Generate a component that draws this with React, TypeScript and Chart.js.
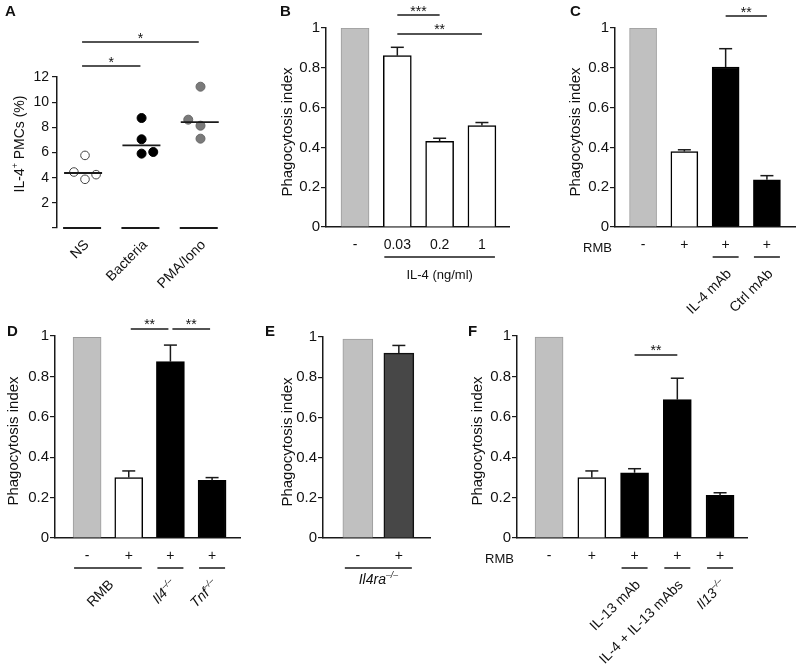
import React, { useEffect, useRef } from 'react';
import { Chart, registerables } from 'chart.js';

Chart.register(...registerables);

const FONT = '"Liberation Sans", Arial, Helvetica, sans-serif';
Chart.defaults.font.family = FONT;
Chart.defaults.color = '#111';

// ---------------- DATA ----------------
// Panel A (dot plot)
const aCategories = ['NS', 'Bacteria', 'PMA/Iono'];
const aNS = [5.77, 4.45, 3.87, 4.24];
const aBacteria = [8.74, 7.05, 5.91, 6.04];
const aPMA = [11.23, 8.61, 8.13, 7.1];
const aMedians = [4.37, 6.57, 8.42];
const aJitterNS = [0.05, -0.14, 0.05, 0.24];
const aJitterBacteria = [0.02, 0.02, 0.02, 0.22];
const aJitterPMA = [0.03, -0.18, 0.03, 0.03];
const aTicks = [0, 2, 4, 6, 8, 10, 12];

const phagoTicks = [0, 0.2, 0.4, 0.6, 0.8, 1];

// Panel B
const bTickLabels = ['-', '0.03', '0.2', '1'];
const bValues = [1.0, 0.861, 0.43, 0.51];
const bErrors = [0, 0.042, 0.016, 0.015];

// Panel C
const cTickLabels = ['-', '+', '+', '+'];
const cValues = [1.0, 0.379, 0.804, 0.237];
const cErrors = [0, 0.009, 0.092, 0.021];

// Panel D
const dTickLabels = ['-', '+', '+', '+'];
const dValues = [0.993, 0.299, 0.873, 0.286];
const dErrors = [0, 0.033, 0.082, 0.013];

// Panel E
const eTickLabels = ['-', '+'];
const eValues = [0.99, 0.92];
const eErrors = [0, 0.038];

// Panel F
const fTickLabels = ['-', '+', '+', '+', '+'];
const fValues = [0.995, 0.299, 0.323, 0.685, 0.211];
const fErrors = [0, 0.033, 0.02, 0.106, 0.013];

// ---------------- TYPES / ANNOTATIONS ----------------
type Part = { text: string; italic?: boolean; sup?: boolean };
type Sig = { from: number; to: number; y: number; label: string };
type Group = { from: number; to: number; parts: Part[]; rotated: boolean; size?: number };

const KO: Part = { text: '\u2013/\u2013', italic: true, sup: true };

const aSig: Sig[] = [
  { from: 0, to: 1, y: 12.87, label: '*' },
  { from: 0, to: 2, y: 14.78, label: '*' },
];
const aGroups: Group[] = aCategories.map((c, i) => ({ from: i, to: i, parts: [{ text: c }], rotated: true }));

const bSig: Sig[] = [
  { from: 1, to: 2, y: 1.065, label: '***' },
  { from: 1, to: 3, y: 0.97, label: '**' },
];
const bGroups: Group[] = [{ from: 1, to: 3, parts: [{ text: 'IL-4 (ng/ml)' }], rotated: false, size: 13 }];

const cSig: Sig[] = [{ from: 2, to: 3, y: 1.06, label: '**' }];
const cGroups: Group[] = [
  { from: 2, to: 2, parts: [{ text: 'IL-4 mAb' }], rotated: true },
  { from: 3, to: 3, parts: [{ text: 'Ctrl mAb' }], rotated: true },
];

const dSig: Sig[] = [
  { from: 1, to: 2, y: 1.035, label: '**' },
  { from: 2, to: 3, y: 1.035, label: '**' },
];
const dGroups: Group[] = [
  { from: 0, to: 1, parts: [{ text: 'RMB' }], rotated: true },
  { from: 2, to: 2, parts: [{ text: 'Il4', italic: true }, KO], rotated: true },
  { from: 3, to: 3, parts: [{ text: 'Tnf', italic: true }, KO], rotated: true },
];

const eSig: Sig[] = [];
const eGroups: Group[] = [{ from: 0, to: 1, parts: [{ text: 'Il4ra', italic: true }, KO], rotated: false, size: 14 }];

const fSig: Sig[] = [{ from: 2, to: 3, y: 0.906, label: '**' }];
const fGroups: Group[] = [
  { from: 2, to: 2, parts: [{ text: 'IL-13 mAb' }], rotated: true },
  { from: 3, to: 3, parts: [{ text: 'IL-4 + IL-13 mAbs' }], rotated: true },
  { from: 4, to: 4, parts: [{ text: 'Il13', italic: true }, KO], rotated: true },
];

// ---------------- STYLES ----------------
const INK = '#1a1a1a';
const GRAY = '#c0c0c0';
const GRAY_B = '#9c9c9c';
const WHITE = '#ffffff';
const BLACK = '#000000';
const DARK = '#474747';

function styleFor(c: string) {
  if (c === GRAY) return { border: GRAY_B, width: 1 };
  if (c === DARK) return { border: '#111', width: 1.5 };
  return { border: '#000', width: 1.5 };
}

// ---------------- DRAW HELPERS ----------------
function fontOf(p: Part, size: number) {
  const s = p.sup ? size * 0.62 : size;
  return `${p.italic ? 'italic ' : ''}${s}px ${FONT}`;
}
function drawRich(ctx: CanvasRenderingContext2D, parts: Part[], x: number, y: number, size: number, align: string) {
  const widths = parts.map((p) => {
    ctx.font = fontOf(p, size);
    return ctx.measureText(p.text).width;
  });
  const total = widths.reduce((a, b) => a + b, 0);
  let cx = align === 'right' ? x - total : align === 'center' ? x - total / 2 : x;
  ctx.textAlign = 'left';
  ctx.textBaseline = 'alphabetic';
  parts.forEach((p, i) => {
    ctx.font = fontOf(p, size);
    ctx.fillText(p.text, cx, p.sup ? y - size * 0.42 : y);
    cx += widths[i];
  });
}
function seg(ctx: CanvasRenderingContext2D, x1: number, y1: number, x2: number, y2: number) {
  ctx.beginPath();
  ctx.moveTo(x1, y1);
  ctx.lineTo(x2, y2);
  ctx.stroke();
}

type Box = { left: number; top: number; width: number; height: number };
type Area = { left: number; top: number; right: number; bottom: number };

interface DecorSpec {
  key: string;
  canvas: Box;
  title: { parts: Part[]; x: number; y: number; size: number };
  values?: number[];
  errors?: number[];
  tickLabels?: string[];
  rowLabel?: string;
  groups: Group[];
  groupHalf: number;
  groupOffset: number;
  groupLabelDy: number;
  groupLineWidth: number;
  rotDx: number;
  rotDy: number;
  sig: Sig[];
  sigGap: number;
  medians?: number[];
}

function decorPlugin(d: DecorSpec) {
  return {
    id: 'decor_' + d.key,
    afterDraw(chart: any) {
      const ctx: CanvasRenderingContext2D = chart.ctx;
      const xs = chart.scales.x;
      const ys = chart.scales.y;
      const ca = chart.chartArea;
      const px = (v: number) => xs.getPixelForValue(v);
      ctx.save();
      ctx.strokeStyle = INK;
      ctx.fillStyle = '#111';
      ctx.lineWidth = 1.5;

      // error bars (upper only)
      if (d.values && d.errors) {
        const meta = chart.getDatasetMeta(0);
        d.values.forEach((v, i) => {
          const e = d.errors![i];
          if (!e) return;
          const x = meta.data[i].x;
          const y0 = ys.getPixelForValue(v);
          const y1 = ys.getPixelForValue(v + e);
          seg(ctx, x, y0, x, y1);
          seg(ctx, x - 6.5, y1, x + 6.5, y1);
        });
      }

      // medians
      if (d.medians) {
        ctx.lineWidth = 1.8;
        d.medians.forEach((m, i) => {
          const y = ys.getPixelForValue(m);
          seg(ctx, px(i) - 18, y, px(i) + 20, y);
        });
      }

      // bottom tick labels (- / +)
      if (d.tickLabels) {
        ctx.font = `14px ${FONT}`;
        ctx.textAlign = 'center';
        ctx.textBaseline = 'middle';
        d.tickLabels.forEach((t, i) => ctx.fillText(t, px(i), ca.bottom + 18));
      }
      if (d.rowLabel) {
        ctx.font = `13px ${FONT}`;
        ctx.textAlign = 'right';
        ctx.textBaseline = 'middle';
        ctx.fillText(d.rowLabel, ca.left - 3, ca.bottom + 21);
      }

      // group lines and labels
      d.groups.forEach((g) => {
        const yLine = ca.bottom + d.groupOffset;
        const x1 = px(g.from) - d.groupHalf;
        const x2 = px(g.to) + d.groupHalf;
        ctx.lineWidth = d.groupLineWidth;
        seg(ctx, x1, yLine, x2, yLine);
        const size = g.size || 14;
        const cx = (px(g.from) + px(g.to)) / 2;
        if (g.rotated) {
          ctx.save();
          ctx.translate(cx + d.rotDx, yLine + d.rotDy);
          ctx.rotate(-Math.PI / 4);
          drawRich(ctx, g.parts, 0, size * 0.35, size, 'right');
          ctx.restore();
        } else {
          drawRich(ctx, g.parts, cx, yLine + d.groupLabelDy + size * 0.35, size, 'center');
        }
      });

      // significance brackets
      ctx.lineWidth = 1.5;
      d.sig.forEach((s) => {
        const y = ys.getPixelForValue(s.y);
        const x1 = px(s.from) + d.sigGap;
        const x2 = px(s.to) - d.sigGap;
        seg(ctx, x1, y, x2, y);
        ctx.font = `14px ${FONT}`;
        ctx.textAlign = 'center';
        ctx.textBaseline = 'alphabetic';
        ctx.fillText(s.label, (x1 + x2) / 2, y + 0.5);
      });

      // y title
      ctx.save();
      ctx.translate(d.title.x - d.canvas.left, d.title.y - d.canvas.top);
      ctx.rotate(-Math.PI / 2);
      drawRich(ctx, d.title.parts, 0, d.title.size * 0.3, d.title.size, 'center');
      ctx.restore();

      ctx.restore();
    },
  };
}

function commonLayout(canvas: Box, area: Area) {
  return {
    padding: {
      left: 0,
      top: area.top - canvas.top,
      right: canvas.left + canvas.width - area.right,
      bottom: 0,
    },
  };
}

function yScale(canvas: Box, area: Area, max: number, ticks: number[], size: number, pad: number, fmt: (v: number) => string) {
  return {
    type: 'linear',
    min: 0,
    max,
    afterBuildTicks: (s: any) => {
      s.ticks = ticks.map((v) => ({ value: v }));
    },
    ticks: { font: { size }, color: '#111', padding: pad, callback: (v: any) => fmt(Number(v)) },
    grid: { display: true, drawOnChartArea: false, drawTicks: true, tickLength: 5, color: INK, lineWidth: 1.2 },
    border: { display: true, color: INK, width: 1.5 },
    afterFit: (s: any) => {
      s.width = area.left - canvas.left;
    },
  };
}

function xScale(canvas: Box, area: Area, min: number, max: number, showLine: boolean) {
  return {
    type: 'linear',
    min,
    max,
    offset: false,
    ticks: { display: false },
    grid: { display: false },
    border: { display: showLine, color: INK, width: 1.5 },
    afterFit: (s: any) => {
      s.height = canvas.top + canvas.height - area.bottom;
    },
  };
}

interface BarSpec {
  key: string;
  canvas: Box;
  area: Area;
  xMin: number;
  xMax: number;
  values: number[];
  errors: number[];
  colors: string[];
  barThickness: number;
  tickLabels: string[];
  rowLabel?: string;
  groups: Group[];
  groupLabelDy: number;
  sig: Sig[];
  sigGap: number;
  titleX: number;
  titleY: number;
}

function barConfig(b: BarSpec) {
  const st = b.colors.map(styleFor);
  return {
    type: 'bar',
    data: {
      datasets: [
        {
          data: b.values.map((v, i) => ({ x: i, y: v })),
          backgroundColor: b.colors,
          borderColor: st.map((s) => s.border),
          borderWidth: st.map((s) => s.width),
          barThickness: b.barThickness,
          borderSkipped: 'start',
        },
      ],
    },
    options: {
      animation: false,
      responsive: false,
      maintainAspectRatio: false,
      layout: commonLayout(b.canvas, b.area),
      plugins: { legend: { display: false }, tooltip: { enabled: false } },
      scales: {
        x: xScale(b.canvas, b.area, b.xMin, b.xMax, true),
        y: yScale(b.canvas, b.area, 1, phagoTicks, 15, 1, (v) => String(v)),
      },
    },
    plugins: [
      decorPlugin({
        key: b.key,
        canvas: b.canvas,
        title: { parts: [{ text: 'Phagocytosis index' }], x: b.titleX, y: b.titleY, size: 15 },
        values: b.values,
        errors: b.errors,
        tickLabels: b.tickLabels,
        rowLabel: b.rowLabel,
        groups: b.groups,
        groupHalf: 13,
        groupOffset: 30,
        groupLabelDy: b.groupLabelDy,
        groupLineWidth: 1.5,
        rotDx: 3,
        rotDy: 14,
        sig: b.sig,
        sigGap: b.sigGap,
      }),
    ],
  };
}

const canvasA: Box = { left: 0, top: 0, width: 258, height: 310 };
const areaA: Area = { left: 57, top: 77, right: 225, bottom: 228 };

function configA() {
  const idx = (name: string) => aCategories.indexOf(name);
  const pts = (vals: number[], jit: number[], c: number) => vals.map((v, i) => ({ x: c + jit[i], y: v }));
  return {
    type: 'scatter',
    data: {
      datasets: [
        { data: pts(aNS, aJitterNS, idx('NS')), pointRadius: 4.3, backgroundColor: WHITE, borderColor: '#444', borderWidth: 1 },
        { data: pts(aBacteria, aJitterBacteria, idx('Bacteria')), pointRadius: 4.5, backgroundColor: BLACK, borderColor: BLACK, borderWidth: 1 },
        { data: pts(aPMA, aJitterPMA, idx('PMA/Iono')), pointRadius: 4.5, backgroundColor: '#7a7a7a', borderColor: '#666', borderWidth: 1 },
      ],
    },
    options: {
      animation: false,
      responsive: false,
      maintainAspectRatio: false,
      layout: commonLayout(canvasA, areaA),
      plugins: { legend: { display: false }, tooltip: { enabled: false } },
      scales: {
        x: xScale(canvasA, areaA, -0.43, 2.45, false),
        y: yScale(canvasA, areaA, 12, aTicks, 14, 3, (v) => (v === 0 ? '' : String(v))),
      },
    },
    plugins: [
      decorPlugin({
        key: 'A',
        canvas: canvasA,
        title: { parts: [{ text: 'IL-4' }, { text: '+', sup: true }, { text: ' PMCs (%)' }], x: 20, y: 144, size: 14 },
        groups: aGroups,
        groupHalf: 19,
        groupOffset: 0,
        groupLabelDy: 0,
        groupLineWidth: 1.8,
        rotDx: 4,
        rotDy: 14,
        sig: aSig,
        sigGap: 0,
        medians: aMedians,
      }),
    ],
  };
}

const barSpecs: BarSpec[] = [
  {
    key: 'B',
    canvas: { left: 262, top: 0, width: 255, height: 310 },
    area: { left: 326, top: 28, right: 509, bottom: 227 },
    xMin: -0.686,
    xMax: 3.64,
    values: bValues,
    errors: bErrors,
    colors: [GRAY, WHITE, WHITE, WHITE],
    barThickness: 28,
    tickLabels: bTickLabels,
    groups: bGroups,
    groupLabelDy: 17,
    sig: bSig,
    sigGap: 0,
    titleX: 287,
    titleY: 132,
  },
  {
    key: 'C',
    canvas: { left: 522, top: 0, width: 276, height: 330 },
    area: { left: 615, top: 28, right: 795, bottom: 227 },
    xMin: -0.68,
    xMax: 3.68,
    values: cValues,
    errors: cErrors,
    colors: [GRAY, WHITE, BLACK, BLACK],
    barThickness: 27,
    tickLabels: cTickLabels,
    rowLabel: 'RMB',
    groups: cGroups,
    groupLabelDy: 17,
    sig: cSig,
    sigGap: 0,
    titleX: 575,
    titleY: 132,
  },
  {
    key: 'D',
    canvas: { left: 0, top: 310, width: 258, height: 360 },
    area: { left: 55, top: 336, right: 240, bottom: 538 },
    xMin: -0.77,
    xMax: 3.67,
    values: dValues,
    errors: dErrors,
    colors: [GRAY, WHITE, BLACK, BLACK],
    barThickness: 28,
    tickLabels: dTickLabels,
    groups: dGroups,
    groupLabelDy: 17,
    sig: dSig,
    sigGap: 2,
    titleX: 13,
    titleY: 441,
  },
  {
    key: 'E',
    canvas: { left: 262, top: 310, width: 200, height: 360 },
    area: { left: 323, top: 337, right: 430, bottom: 538 },
    xMin: -0.85,
    xMax: 1.76,
    values: eValues,
    errors: eErrors,
    colors: [GRAY, DARK],
    barThickness: 30,
    tickLabels: eTickLabels,
    groups: eGroups,
    groupLabelDy: 11,
    sig: eSig,
    sigGap: 0,
    titleX: 287,
    titleY: 442,
  },
  {
    key: 'F',
    canvas: { left: 466, top: 310, width: 332, height: 360 },
    area: { left: 517, top: 336, right: 747, bottom: 538 },
    xMin: -0.75,
    xMax: 4.63,
    values: fValues,
    errors: fErrors,
    colors: [GRAY, WHITE, BLACK, BLACK, BLACK],
    barThickness: 28,
    tickLabels: fTickLabels,
    rowLabel: 'RMB',
    groups: fGroups,
    groupLabelDy: 17,
    sig: fSig,
    sigGap: 0,
    titleX: 477,
    titleY: 441,
  },
];

const panelLetters = [
  { t: 'A', x: 5, base: 15 },
  { t: 'B', x: 280, base: 15 },
  { t: 'C', x: 570, base: 15 },
  { t: 'D', x: 7, base: 335 },
  { t: 'E', x: 265, base: 335 },
  { t: 'F', x: 468, base: 335 },
];

const canvases: Box[] = [canvasA, ...barSpecs.map((b) => b.canvas)];

export default function App() {
  const refs = useRef<(HTMLCanvasElement | null)[]>([]);
  useEffect(() => {
    const configs: any[] = [configA(), ...barSpecs.map(barConfig)];
    const charts = configs.map((cfg, i) => new Chart(refs.current[i] as HTMLCanvasElement, cfg));
    return () => charts.forEach((c) => c.destroy());
  }, []);
  return (
    <div style={{ position: 'fixed', left: 0, top: 0, width: 798, height: 670, background: '#fff', overflow: 'hidden' }}>
      {canvases.map((c, i) => (
        <canvas
          key={i}
          ref={(el) => {
            refs.current[i] = el;
          }}
          width={c.width}
          height={c.height}
          style={{ position: 'absolute', left: c.left, top: c.top, width: c.width, height: c.height }}
        />
      ))}
      {panelLetters.map((l) => (
        <div
          key={l.t}
          style={{
            position: 'absolute',
            left: l.x,
            top: l.base - 12.5,
            font: `bold 15px ${FONT}`,
            lineHeight: '15px',
            color: '#111',
          }}
        >
          {l.t}
        </div>
      ))}
    </div>
  );
}
